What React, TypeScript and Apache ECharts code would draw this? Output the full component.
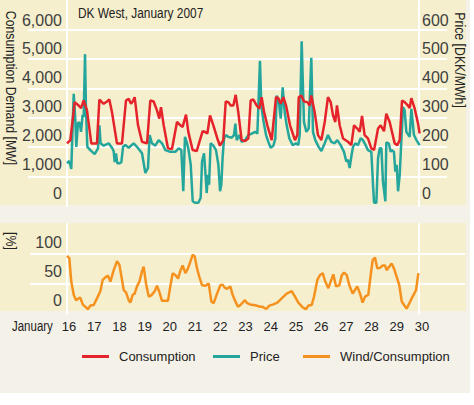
import React, { useEffect, useRef } from "react";
import * as echarts from "echarts";

const FONT = "'Liberation Sans', Arial, sans-serif";

// hours since 16 January 00:00
const consHours = [0, 3.2, 7.3, 11.1, 13.4, 15.9, 19.1, 23.2, 28.6, 30.9, 35.0, 38.2, 40.4, 42.9, 47.7, 52.5, 56.3, 58.9, 61.1, 62.7, 64.6, 67.8, 71.6, 76.4, 79.5, 82.7, 85.9, 88.1, 89.7, 92.3, 96.4, 100.2, 105.0, 108.2,
  110.4, 113.6, 115.8, 119.9, 123.8, 126.9, 129.5, 131.7, 134.0, 136.5, 139.7, 143.5, 146.0, 149.2, 151.5, 154.0, 156.2, 158.8, 161.0, 163.5, 166.7, 169.9, 173.1, 175.3, 177.9, 181.0, 183.6, 185.8, 188.0, 191.2, 195.4, 199.5, 201.7, 204.0, 206.5, 209.1, 212.9, 217.6, 219.9,
  221.2, 223.7, 226.2, 229.4, 231.6, 233.2, 236.4, 239.6, 242.8, 246.0, 249.1, 251.7, 253.9, 256.1, 257.7, 260.3, 263.5, 268.2, 271.4, 274.0, 277.1, 279.4, 281.6, 284.1, 287.3, 290.5, 293.1, 296.9, 299.4, 302.6, 304.8, 308.0, 310.2, 312.8, 315.3, 317.6, 319.8, 322.3, 324.9, 327.1, 328.7, 331.9, 335.1, 336.6];
const consMW = [2127, 2238, 3529, 3416, 3327, 3585, 3248, 2127, 2127, 3618, 3473, 3551, 3618, 3192, 2127, 2127, 3585, 3641, 3473, 3551, 3697, 2743, 2183, 2127, 3585, 3551, 3248, 2967, 3361, 2743, 1958, 1936, 2855, 2743,
  2687, 3103, 2519, 1902, 1868, 2238, 2541, 2519, 2463, 3080, 2743, 2295, 2048, 2238, 3551, 3529, 3416, 3416, 3776, 3192, 2238, 2205, 2295, 3585, 3618, 3416, 3305, 3697, 3215, 2743, 2238, 3697, 3664, 3473, 3697, 3416, 2743, 2238, 2407,
  3697, 3753, 3551, 3529, 3416, 3753, 3192, 2407, 2238, 2855, 3697, 3529, 3080, 2855, 3416, 2743, 2295, 2183, 2070, 2743, 2632, 2519, 3058, 2407, 2295, 1958, 1902, 2632, 2743, 2541, 3136, 2855, 2519, 2127, 2070, 2238, 3585, 3529, 3439, 3327, 3664, 3305, 2799, 2463];

const priceHours = [0, 2.2, 4.1, 6.4, 7.9, 8.9, 10.5, 12.1, 13.4, 14.9, 15.9, 17.2, 18.1, 19.4, 22.3, 26.4, 29.6, 30.9, 32.1, 35.0, 39.8, 42.9, 44.5, 45.5, 46.8, 48.0, 50.0, 51.9, 53.5, 55.7, 58.9, 63.6, 66.8, 71.6, 74.8, 77.3, 78.9, 81.1, 84.3, 87.5, 90.7, 93.9, 98.6, 103.4, 106.6, 109.1,
  111.0, 112.6, 114.2, 115.8, 118.1, 120.0, 122.2, 125.4, 127.6, 128.9, 130.8, 132.7, 133.3, 134.6, 135.6, 137.1, 139.7, 142.2, 144.5, 146.1, 147.3, 148.6, 149.9, 151.5, 154.0, 157.2, 159.4, 160.7, 162.0, 164.5, 166.7, 169.9, 173.1, 176.3, 179.5, 181.7, 184.2, 185.5, 187.4, 190.0, 192.2, 194.4, 197.0, 198.9, 200.1, 202.1, 204.0, 205.9, 207.8, 209.7, 212.2, 215.4, 218.6, 220.8,
  222.1, 224.0, 226.2, 228.5, 230.7, 233.2, 234.8, 237.0, 240.2, 242.8, 246.0, 249.1, 252.3, 255.5, 258.0, 261.2, 264.4, 266.6, 268.2, 269.8, 271.4, 273.0, 275.2, 277.8, 280.3, 282.5, 284.1, 287.3, 290.5, 292.1, 293.1, 295.3, 296.9, 298.5, 300.1, 301.6, 303.9, 304.8, 307.1, 309.0, 310.2, 312.1, 313.4, 314.7, 316.0, 317.6, 319.1, 320.7, 322.3, 323.9, 327.1, 328.7, 331.2, 333.5, 336.6];
const priceDKK = [145, 153, 126, 381, 297, 201, 283, 283, 252, 310, 302, 516, 330, 201, 190, 176, 196, 274, 213, 205, 213, 198, 187, 149, 179, 145, 145, 149, 201, 207, 198, 213, 201, 179, 112, 129, 241, 213, 205, 224, 213, 190, 184, 184, 196, 190,
  50, 235, 218, 196, 140, 16, 11, 11, 28, 151, 179, 83, 44, 106, 72, 213, 205, 190, 140, 50, 72, 168, 230, 241, 235, 232, 241, 280, 224, 241, 218, 224, 241, 246, 252, 246, 493, 342, 291, 241, 218, 198, 205, 230, 375, 358, 297, 403, 319, 274, 230, 207, 213, 207,
  241, 560, 285, 252, 263, 504, 252, 224, 201, 187, 213, 241, 218, 213, 224, 207, 184, 151, 157, 129, 168, 201, 213, 207, 230, 224, 213, 190, 184, 72, 11, 11, 162, 196, 196, 83, 16, 216, 213, 184, 190, 184, 117, 140, 50, 106, 218, 336, 325, 252, 235, 330, 241, 224, 207];

const windHours = [0, 2.2, 4.1, 6.4, 8.6, 11.1, 12.7, 15.0, 17.5, 20.1, 22.3, 25.5, 28.6, 31.8, 34.1, 36.6, 39.1, 41.4, 44.6, 47.7, 50.0, 52.5, 54.1, 56.3, 58.9, 60.5, 62.7, 64.6, 66.8, 69.1, 71.6, 73.2, 75.4, 78.0, 80.5, 83.7, 85.9, 88.1, 90.7, 93.9, 96.4, 98.6, 100.9, 103.4, 106.0, 108.2, 110.4, 113.0, 115.5, 117.7, 120.0, 121.9, 124.1, 126.3, 128.9, 132.1, 135.2, 137.8, 140.0, 143.2, 146.4, 148.6, 150.5, 152.7, 155.9, 158.1, 160.7, 163.2, 165.5,
  167.7, 169.9, 172.1, 174.7, 177.9, 181.0, 184.2, 186.8, 189.0, 190.6, 193.1, 197.0, 200.8, 204.9, 209.7, 214.5, 217.6, 220.8, 225.0, 228.1, 230.4, 233.6, 235.8, 239.0, 241.5, 244.1, 246.3, 249.5, 251.7, 254.2, 256.8, 260.0, 262.2, 264.4, 267.0, 269.5, 272.7, 274.9, 277.1, 279.7, 282.2, 284.5, 287.6, 289.9, 291.8, 294.0, 296.2, 298.8, 301.3, 303.6, 305.1, 307.7, 309.9, 312.1, 314.7, 317.2, 319.5, 321.7, 324.2, 326.8, 329.0, 331.2, 333.2, 335.4];
const windPct = [97, 93, 54, 32, 23, 26, 27, 16, 12, 8, 14, 15, 26, 38, 57, 61, 64, 54, 73, 88, 82, 57, 40, 36, 23, 19, 32, 34, 46, 54, 71, 79, 51, 29, 31, 38, 47, 37, 22, 22, 22, 46, 68, 65, 59, 72, 81, 68, 76, 87, 99, 96, 76, 62, 48, 47, 51, 21, 18, 34, 48, 49, 44, 42, 46, 32, 21, 12, 15,
  19, 23, 18, 16, 15, 14, 12, 12, 9, 9, 14, 16, 19, 26, 34, 38, 29, 19, 11, 8, 14, 15, 29, 57, 65, 68, 55, 43, 54, 66, 46, 48, 64, 69, 65, 48, 34, 40, 46, 34, 19, 29, 32, 65, 90, 94, 76, 77, 81, 81, 73, 79, 84, 76, 62, 48, 21, 15, 9, 18, 26, 33, 40, 68];

const seriesNames = ["Consumption", "Price", "Wind/Consumption"];
const colors = ["#e5232a", "#25a69c", "#f5921f"];
const legendLefts = [82, 213, 303];

const WHITE = "#ffffff";
const PANEL = "#f6efcd";
const BG = "#f4f1e8";
const TXT = "#3f3f3f";
const DARK = "#222222";
const SQUEEZE = 0.82;

export default function App() {
  const ref = useRef<HTMLDivElement>(null);
  useEffect(() => {
    document.body.style.margin = "0";
    const chart = echarts.init(ref.current as HTMLDivElement, null, { renderer: "svg" });
    const pairs = (hs: number[], vs: number[]) => hs.map((h, i) => [16 + h / 24, vs[i]]);
    const noAxis = { axisLine: { show: false }, axisTick: { show: false }, axisLabel: { show: false }, splitLine: { show: false } };
    const white = { color: WHITE, width: 2 };
    const label = (text: string, x: number, y: number, size: number, rotated: boolean, align = "center") => ({
      type: "text", x, y, rotation: rotated ? -Math.PI / 2 : 0, scaleX: SQUEEZE, silent: true,
      style: { text, fontSize: size, fontFamily: FONT, fill: DARK, textAlign: align, textVerticalAlign: "middle", align, verticalAlign: "middle" },
    });
    const option: any = {
      animation: false,
      legend: seriesNames.map((name, i) => ({
        data: [name], left: legendLefts[i], top: 350, icon: "rect", itemWidth: 27, itemHeight: 3, padding: 0,
        textStyle: { fontFamily: FONT, fontSize: 13, color: DARK, padding: [0, 0, 0, 5] },
      })),
      grid: [
        { left: 28, right: 27, top: -2, height: 208 },
        { left: 67, right: 55, top: -2, height: 208 },
        { left: 67, right: 55, top: 20, height: 173 },
        { left: 30, right: 9, top: 224, height: 90 },
        { left: 67, right: 55, top: 224, height: 90 },
        { left: 69, right: 52, top: 242, height: 58 },
      ],
      xAxis: [
        { gridIndex: 0, type: "value", min: 0, max: 1, show: false },
        { gridIndex: 1, type: "value", min: 16, max: 30, show: false },
        { gridIndex: 2, type: "value", min: 0, max: 1, show: false },
        { gridIndex: 3, type: "value", min: 0, max: 1, show: false },
        { gridIndex: 4, type: "value", min: 16, max: 30, show: false },
        {
          gridIndex: 5, type: "value", min: 16, max: 30, interval: 1,
          axisLine: { show: false }, axisTick: { show: false }, splitLine: { show: false },
          axisLabel: { margin: 20, fontSize: 13, fontFamily: FONT, color: DARK },
        },
      ],
      yAxis: [
        { gridIndex: 0, type: "value", min: 0, max: 7000, interval: 1000, ...noAxis, splitLine: { show: true, lineStyle: white, showMinLine: false, showMaxLine: false } },
        { gridIndex: 1, type: "value", position: "left", min: 0, max: 7000, interval: 1000, ...noAxis, axisLine: { show: true, onZero: false, lineStyle: white } },
        { gridIndex: 1, type: "value", position: "right", min: 0, max: 700, interval: 100, ...noAxis, axisLine: { show: true, onZero: false, lineStyle: white } },
        {
          gridIndex: 2, type: "value", position: "left", min: 0, max: 6000, interval: 1000, ...noAxis,
          axisLabel: { show: true, margin: 5, fontSize: 16, fontFamily: FONT, color: TXT, formatter: (v: number) => v.toLocaleString("en-US") },
        },
        {
          gridIndex: 2, type: "value", position: "right", min: 0, max: 600, interval: 100, ...noAxis,
          axisLabel: { show: true, margin: 3, fontSize: 16, fontFamily: FONT, color: TXT },
        },
        { gridIndex: 3, type: "value", min: 0, max: 150, interval: 50, ...noAxis, splitLine: { show: true, lineStyle: white, showMinLine: false, showMaxLine: false } },
        { gridIndex: 4, type: "value", position: "left", min: 0, max: 150, interval: 50, ...noAxis, axisLine: { show: true, onZero: false, lineStyle: white } },
        { gridIndex: 4, type: "value", position: "right", min: 0, max: 150, interval: 50, ...noAxis, axisLine: { show: true, onZero: false, lineStyle: white } },
        {
          gridIndex: 5, type: "value", position: "left", min: 0, max: 100, interval: 50, ...noAxis,
          axisLabel: { show: true, margin: 7, fontSize: 16, fontFamily: FONT, color: TXT },
        },
      ],
      series: [
        {
          name: seriesNames[1], type: "line", xAxisIndex: 1, yAxisIndex: 2, data: pairs(priceHours, priceDKK),
          showSymbol: false, symbol: "none", color: colors[1], lineStyle: { width: 2.5, color: colors[1] }, z: 2,
        },
        {
          name: seriesNames[0], type: "line", xAxisIndex: 1, yAxisIndex: 1, data: pairs(consHours, consMW),
          showSymbol: false, symbol: "none", color: colors[0], lineStyle: { width: 2.5, color: colors[0] }, z: 3,
        },
        {
          name: seriesNames[2], type: "line", xAxisIndex: 4, yAxisIndex: 6, data: pairs(windHours, windPct),
          showSymbol: false, symbol: "none", color: colors[2], lineStyle: { width: 2.5, color: colors[2] }, z: 3,
        },
      ],
      graphic: [
        { type: "rect", z: -100, silent: true, shape: { x: 0, y: 0, width: 470, height: 393 }, style: { fill: BG } },
        { type: "rect", z: -99, silent: true, shape: { x: 0, y: 0, width: 466, height: 205 }, style: { fill: PANEL } },
        { type: "rect", z: -99, silent: true, shape: { x: 0, y: 223, width: 466, height: 88 }, style: { fill: PANEL } },
        label("DK West, January 2007", 78, 13, 14.5, false, "left"),
        label("Consumption Demand [MW]", 11, 88, 15, true),
        label("Price [DKK/MWh]", 460, 60, 15, true),
        label("[%]", 11, 241, 15, true),
        label("January", 12, 326, 14, false, "left"),
      ],
    };
    chart.setOption(option);
    return () => chart.dispose();
  }, []);
  return <div ref={ref} style={{ width: 474, height: 405 }} />;
}
